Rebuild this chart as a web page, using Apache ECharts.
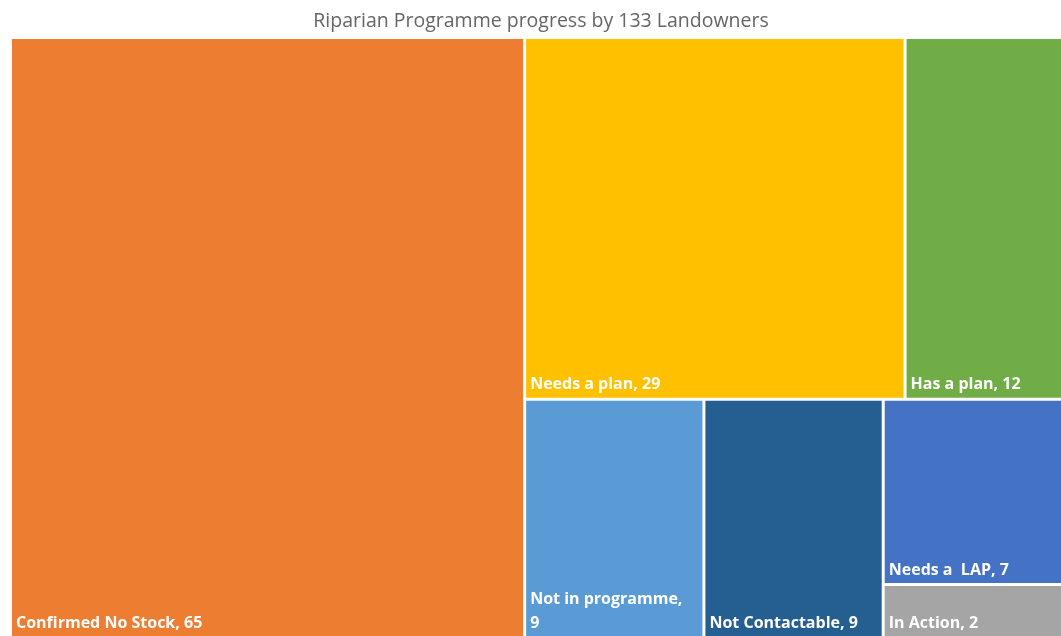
<!DOCTYPE html>
<html>
<head>
<meta charset="utf-8">
<script src="https://cdn.jsdelivr.net/npm/echarts@6/dist/echarts.min.js"></script>
<style>
  html, body { margin: 0; padding: 0; background: #ffffff; }
  #chart { width: 1061px; height: 636px; }
</style>
</head>
<body>
<div id="chart"></div>
<script>
// Landowner status groups and counts
const categories = [
  'Confirmed No Stock',
  'Needs a plan',
  'Has a plan',
  'Not in programme',
  'Not Contactable',
  'Needs a  LAP',
  'In Action'
];
const counts = [65, 29, 12, 9, 9, 7, 2];
const colors = ['#ED7D31', '#FFC000', '#70AD47', '#5B9BD5', '#255E91', '#4472C4', '#A5A5A5'];

const total = counts.reduce((a, b) => a + b, 0);

const data = categories.map((name, i) => {
  const item = {
    name: name,
    value: counts[i],
    itemStyle: { color: colors[i] }
  };
  if (name === 'Not in programme') {
    item.label = { formatter: '{b},\n{c}' };
  }
  return item;
});

const chart = echarts.init(document.getElementById('chart'), null, { renderer: 'canvas' });
chart.setOption({
  animation: false,
  title: {
    text: 'Riparian Programme progress by ' + total + ' Landowners',
    left: 536,
    textAlign: 'center',
    top: 6,
    textStyle: {
      fontFamily: 'Open Sans',
      fontSize: 19.5,
      fontWeight: 'normal',
      color: '#666666'
    }
  },
  series: [{
    type: 'treemap',
    left: 12,
    top: 39,
    right: 0,
    bottom: 0,
    sort: false,
    squareRatio: 1.25,
    roam: false,
    nodeClick: false,
    breadcrumb: { show: false },
    itemStyle: { borderWidth: 0, gapWidth: 3, borderColor: '#ffffff' },
    emphasis: { disabled: true },
    label: {
      show: true,
      position: 'insideBottomLeft',
      distance: 0,
      offset: [-1, 4],
      formatter: '{b}, {c}',
      fontFamily: 'Open Sans',
      fontWeight: 'bold',
      fontSize: 16,
      lineHeight: 24,
      color: '#ffffff'
    },
    data: data
  }]
});
</script>
</body>
</html>
